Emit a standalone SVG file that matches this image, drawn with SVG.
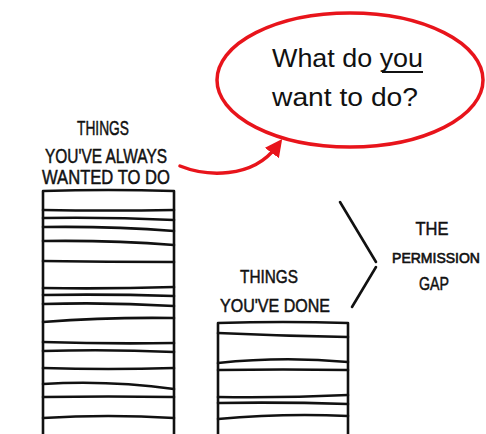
<svg xmlns="http://www.w3.org/2000/svg" width="486" height="434" viewBox="0 0 486 434">
  <style>
    .ink { fill: none; stroke: #111; stroke-width: 2.6; stroke-linecap: round; stroke-linejoin: round; }
    .hand { font-family: "Liberation Sans", "DejaVu Sans", sans-serif; font-size: 21px; fill: #111; stroke: #111; stroke-width: 0.5; text-anchor: middle; }
    .hand-s { font-size: 19px; }
    .hand-xs { font-size: 14px; stroke-width: 0.6; }
    .bubbletext { font-family: "Liberation Sans", "DejaVu Sans", sans-serif; font-size: 25px; fill: #111; }
    .red { fill: none; stroke: #e8141b; stroke-width: 3.5; stroke-linecap: round; }
  </style>
  <defs>
    <marker id="redhead" viewBox="0 0 10 10" refX="5" refY="5" markerWidth="5" markerHeight="5" orient="auto" markerUnits="strokeWidth">
      <path d="M0,0 L10,5 L0,10 Z" fill="#e8141b"/>
    </marker>
  </defs>
  <rect width="486" height="434" fill="#fff"/>

  <g id="tall-bar">
    <path class="ink" d="M43,434 L43,191 Q108,189 174,191 L174,434"/>
    <path class="ink" d="M43,210 Q108,211 174,210"/>
    <path class="ink" d="M43,218 Q108,217 174,220"/>
    <path class="ink" d="M43,227 Q110,226 174,231"/>
    <path class="ink" d="M43,241 Q110,240 174,245"/>
    <path class="ink" d="M43,261 Q108,262 174,262"/>
    <path class="ink" d="M43,288 Q108,289 174,287"/>
    <path class="ink" d="M43,295 Q108,294 174,296"/>
    <path class="ink" d="M43,304 Q108,302 174,306"/>
    <path class="ink" d="M43,322 Q108,317 174,318"/>
    <path class="ink" d="M43,342 Q108,344 174,343"/>
    <path class="ink" d="M43,351 Q108,349 174,352"/>
    <path class="ink" d="M43,368 Q108,370 174,368"/>
    <path class="ink" d="M43,384 Q108,380 174,389"/>
    <path class="ink" d="M43,397 Q108,396 174,397"/>
    <path class="ink" d="M43,418 Q108,414 174,418"/>
  </g>

  <g id="short-bar">
    <path class="ink" d="M218,434 L218,323 Q283,321 348,323 L348,434"/>
    <path class="ink" d="M218,333 Q283,336 348,337"/>
    <path class="ink" d="M218,363 Q283,356 348,362"/>
    <path class="ink" d="M218,370 Q283,369 348,370"/>
    <path class="ink" d="M218,397 Q283,398 348,395"/>
    <path class="ink" d="M218,403 Q283,402 348,404"/>
    <path class="ink" d="M218,419 Q283,413 348,416"/>
  </g>

  <g id="label-always">
    <text class="hand" x="103" y="135" textLength="52" lengthAdjust="spacingAndGlyphs">THINGS</text>
    <text class="hand" x="106" y="163" textLength="122" lengthAdjust="spacingAndGlyphs">YOU'VE  ALWAYS</text>
    <text class="hand" x="106" y="184" textLength="128" lengthAdjust="spacingAndGlyphs">WANTED TO DO</text>
  </g>

  <g id="label-done">
    <text class="hand hand-s" x="269" y="283" textLength="58" lengthAdjust="spacingAndGlyphs">THINGS</text>
    <text class="hand hand-s" x="275" y="312" textLength="110" lengthAdjust="spacingAndGlyphs">YOU'VE DONE</text>
  </g>

  <g id="label-gap">
    <text class="hand hand-s" x="432" y="235" textLength="33" lengthAdjust="spacingAndGlyphs">THE</text>
    <text class="hand hand-xs" x="436" y="263">PERMISSION</text>
    <text class="hand hand-s" x="434" y="290" textLength="30" lengthAdjust="spacingAndGlyphs">GAP</text>
  </g>

  <g id="bubble">
    <ellipse cx="350" cy="80" rx="133" ry="67" fill="#fff" stroke="#e8141b" stroke-width="3.5"/>
    <text class="bubbletext" x="272" y="67" textLength="151" lengthAdjust="spacingAndGlyphs">What do you</text>
    <line x1="382" y1="72" x2="423" y2="72" stroke="#111" stroke-width="2"/>
    <text class="bubbletext" x="272" y="106" textLength="146" lengthAdjust="spacingAndGlyphs">want to do?</text>
  </g>

  <g id="connectors">
    <path class="red" d="M180,166 C205,176 252,180 277,146" marker-end="url(#redhead)"/>
    <path class="ink" d="M340,202 L376,262"/>
    <path class="ink" d="M376,267 L352,307"/>
  </g>
</svg>
